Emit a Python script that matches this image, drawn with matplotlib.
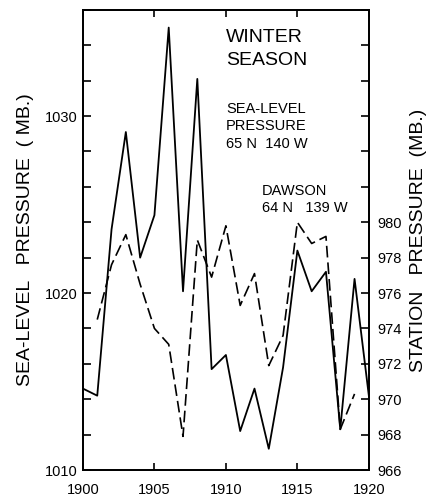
import matplotlib
matplotlib.use("Agg")
import matplotlib.pyplot as plt
from matplotlib.ticker import MultipleLocator, FuncFormatter, FixedLocator

plt.rcParams['font.family'] = ['Liberation Sans', 'DejaVu Sans']

years_slp = list(range(1900, 1921))
slp = [1014.6, 1014.2, 1023.6, 1029.1, 1022.0, 1024.4, 1035.0, 1020.1, 1032.1,
       1015.7, 1016.5, 1012.2, 1014.6, 1011.2, 1015.8, 1022.4, 1020.1, 1021.2,
       1012.3, 1020.8, 1014.2]

years_daw = list(range(1901, 1920))
dawson = [974.5, 977.6, 979.3, 976.5, 974.0, 973.1, 967.9, 979.0, 976.9,
          979.8, 975.3, 977.1, 971.9, 973.6, 980.0, 978.8, 979.2, 968.3, 970.3]

fig = plt.figure(figsize=(4.46, 4.95), dpi=100)
ax = fig.add_axes([0.186, 0.0505, 0.641, 0.9295])
ax2 = ax.twinx()

ax.plot(years_slp, slp, color='black', lw=1.3)
ax2.plot(years_daw, dawson, color='black', lw=1.2, dashes=(7, 3))

ax.set_xlim(1900, 1920)
ax.set_ylim(1010, 1036)
ax2.set_ylim(966, 992)

ax.xaxis.set_major_locator(FixedLocator([1900, 1905, 1910, 1915, 1920]))
ax.yaxis.set_major_locator(FixedLocator([1010, 1020, 1030]))
ax.yaxis.set_minor_locator(MultipleLocator(2))
ax2.yaxis.set_major_locator(MultipleLocator(2))
ax2.yaxis.set_major_formatter(FuncFormatter(lambda v, p: f"{int(round(v))}" if v <= 980.5 else ""))

for a in (ax, ax2):
    for s in a.spines.values():
        s.set_linewidth(1.3)

ax.tick_params(axis='x', which='both', direction='in', top=True, length=5, width=1.2,
               labelsize=10.5, pad=9)
ax.tick_params(axis='y', which='both', direction='in', right=False, length=6, width=1.2,
               labelsize=10.5, pad=4)
ax2.tick_params(axis='y', which='both', direction='in', length=6, width=1.2,
                labelsize=10.5, pad=6)

ax.set_ylabel("SEA-LEVEL   PRESSURE  ( MB.)", fontsize=14, labelpad=8)
ax2.set_ylabel("STATION   PRESSURE  (MB.)", fontsize=14, labelpad=6)

ax.text(0.5, 0.958, "WINTER\nSEASON", transform=ax.transAxes, fontsize=14,
        ha='left', va='top', linespacing=1.45)
ax.text(0.5, 0.8, "SEA-LEVEL\nPRESSURE\n65 N  140 W", transform=ax.transAxes,
        fontsize=10.5, ha='left', va='top', linespacing=1.3)
ax.text(0.626, 0.622, "DAWSON\n64 N   139 W", transform=ax.transAxes,
        fontsize=10.5, ha='left', va='top', linespacing=1.3)

fig.savefig("out.png", dpi=100)
